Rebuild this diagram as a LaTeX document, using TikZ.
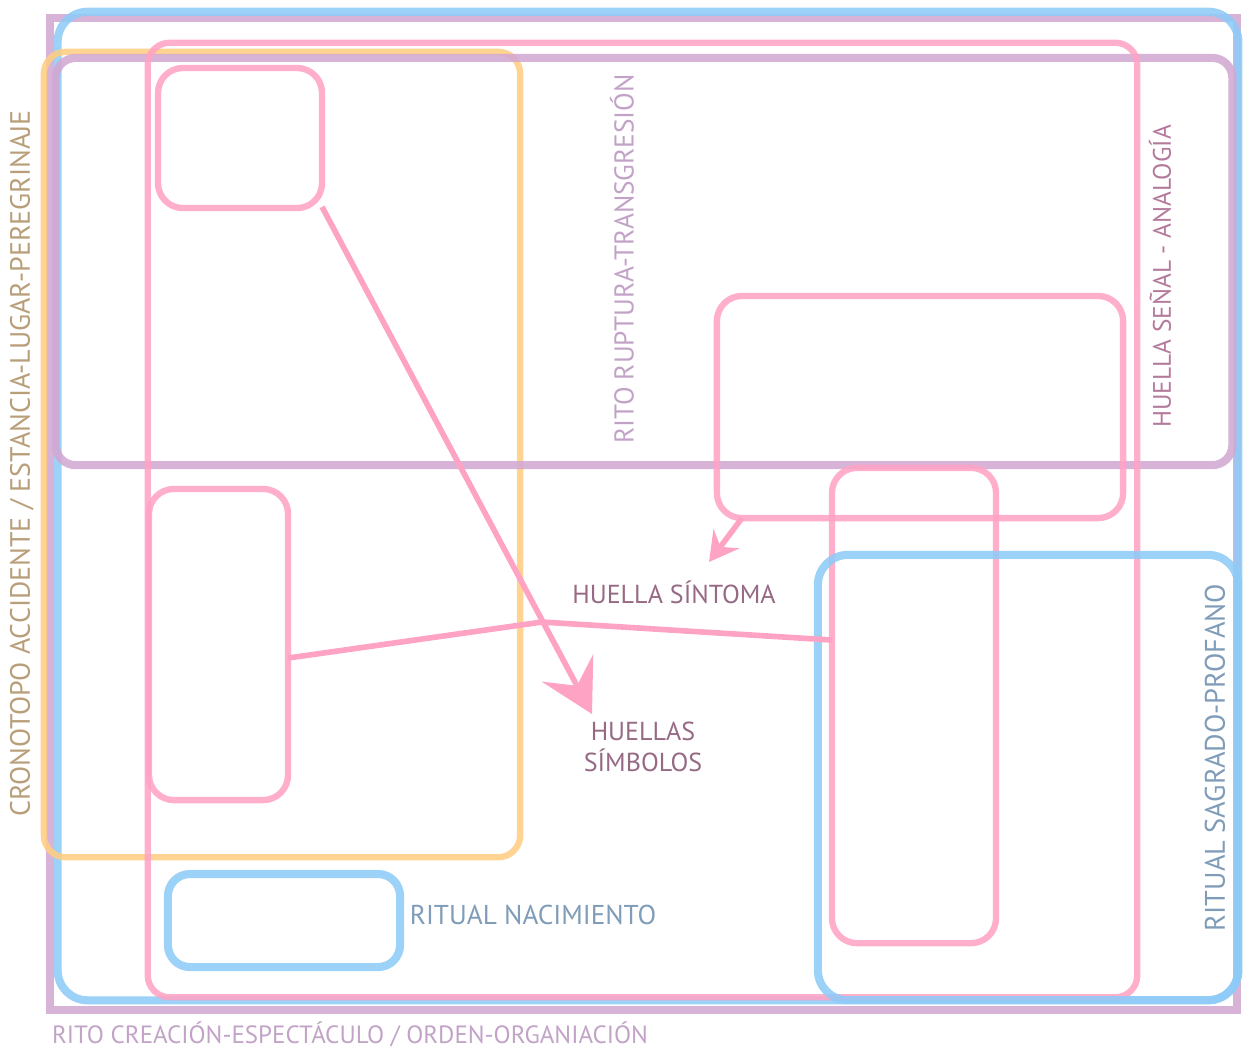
\documentclass[tikz,border=0pt]{standalone}
\usepackage{fontspec}
\usepackage{tikz}
\usetikzlibrary{positioning, arrows.meta, calc}
\newfontfamily\rotulo{PT Sans}
\definecolor{lila}{HTML}{D3A8D3}
\definecolor{celeste}{HTML}{8ECBF7}
\definecolor{naranja}{HTML}{FFCD82}
\definecolor{rosa}{HTML}{FFA3C5}
\definecolor{txtlila}{HTML}{C2A3C7}
\definecolor{txtmalva}{HTML}{B47A9C}
\definecolor{txtoscuro}{HTML}{966A84}
\definecolor{txtcafe}{HTML}{B89F7A}
\definecolor{txtazul}{HTML}{7F9CB8}
\newcommand{\tam}[1]{\rotulo\fontsize{#1}{1.2\dimexpr#1pt}\selectfont}
\tikzset{
  caja/.style={
    draw, inner sep=0pt, outer sep=0pt,
    draw opacity=0.88
  },
  marco/.style={caja, draw=lila, line width=2.3pt},
  azul/.style={caja, draw=celeste, line width=2.3pt, rounded corners=0.3cm},
  lilacaja/.style={caja, draw=lila, line width=2.3pt, rounded corners=0.2cm},
  naranjacaja/.style={caja, draw=naranja, line width=1.8pt, rounded corners=0.22cm},
  rosacaja/.style={caja, draw=rosa, line width=1.8pt, rounded corners=0.25cm},
  flecha/.style={draw=rosa, line width=1.6pt},
  texto/.style={font=\tam{7.2}, inner sep=0pt, align=center}
}
\begin{document}
\begin{tikzpicture}[x=0.01cm, y=-0.01cm]
  \useasboundingbox (0,0) rectangle (1243,1053);

  % Outer frames
  \node[marco, minimum width=11.87cm, minimum height=9.92cm] (rito) at (643.5,514) {};
  \node[azul, minimum width=11.80cm, minimum height=9.88cm] (ritual) at (648,506) {};
  \node[naranjacaja, minimum width=4.76cm, minimum height=8.05cm] (crono) at (282,454.5) {};
  \node[lilacaja, minimum width=11.76cm, minimum height=4.07cm] (ruptura) at (644,261.5) {};
  \node[rosacaja, rounded corners=0.22cm, minimum width=9.89cm, minimum height=9.54cm] (huella) at (642.5,520) {};

  % Inner boxes
  \node[rosacaja, minimum width=1.64cm, minimum height=1.40cm] (cajaSup) at (240,138) {};
  \node[rosacaja, minimum width=4.06cm, minimum height=2.22cm] (cajaSenal) at (920,407) {};
  \node[rosacaja, minimum width=1.39cm, minimum height=3.11cm] (cajaIzq) at (218.5,644.5) {};
  \node[rosacaja, minimum width=1.64cm, minimum height=4.75cm] (cajaDer) at (914,705.5) {};
  \node[azul, minimum width=4.20cm, minimum height=4.45cm] (sagrado) at (1028,777.5) {};
  \node[azul, rounded corners=0.22cm, minimum width=2.32cm, minimum height=0.93cm] (nacimiento) at (284,920.5) {};

  % Labels
  \node[texto, font=\tam{7.75}, rotate=90, text=txtlila] (lblRuptura) at (622,259) {RITO RUPTURA-TRANSGRESIÓN};
  \node[texto, rotate=90, text=txtmalva] (lblSenal) at (1160,276.5) {HUELLA SEÑAL - ANALOGÍA};
  \node[texto, font=\tam{7.95}, rotate=90, text=txtcafe] (lblCrono) at (22,463.5) {CRONOTOPO ACCIDENTE / ESTANCIA-LUGAR-PEREGRINAJE};
  \node[texto, font=\tam{8.05}, rotate=90, text=txtazul] (lblSagrado) at (1215,757.5) {RITUAL SAGRADO-PROFANO};
  \node[texto, font=\tam{7.75}, text=txtazul] (lblNacimiento) at (533,915) {RITUAL NACIMIENTO};
  \node[texto, font=\tam{7.4}, text=txtoscuro] (sintoma) at (674,592) {HUELLA SÍNTOMA};
  \node[texto, font=\tam{7.4}, text=txtoscuro] (simbolos) at (643,747) {HUELLAS\\ SÍMBOLOS};
  \node[texto, font=\tam{7.1}, text=txtlila] (lblRito) at (350,1034) {RITO CREACIÓN-ESPECTÁCULO / ORDEN-ORGANIACIÓN};

  % Arrows
  \coordinate (puntaSimb) at (592,714);
  \coordinate (puntaSint) at (709,562);
  \coordinate (quiebre) at (542,622);
  \draw[flecha, -{Stealth[length=0.52cm, width=0.58cm, inset=0.2cm]}] (cajaSup.-40) -- (puntaSimb);
  \draw[flecha, -{Stealth[length=0.29cm, width=0.32cm, inset=0.1cm]}] ($(cajaSenal.south west)+(25,0)$) -- (puntaSint);
  \draw[flecha] ($(cajaIzq.east)+(0,13.5)$) -- (quiebre) -- ($(cajaDer.west)+(0,-65.5)$);
\end{tikzpicture}
\end{document}
